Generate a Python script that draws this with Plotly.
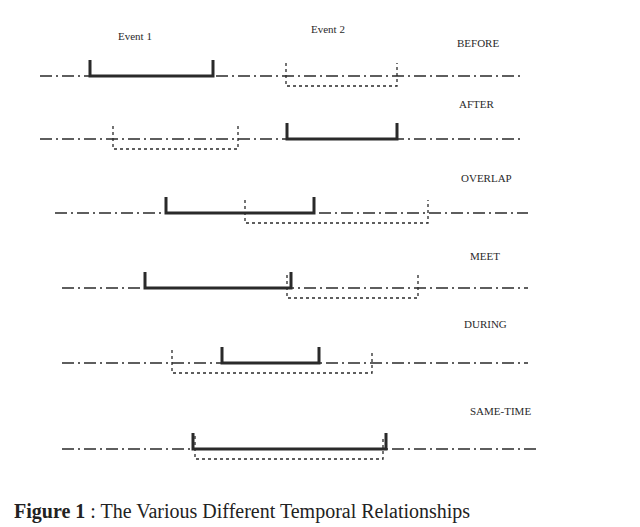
import plotly.graph_objects as go

# rows of the figure (in picture units, y grows downwards)
labels = ["BEFORE", "AFTER", "OVERLAP", "MEET", "DURING", "SAME-TIME"]
base_y = [75, 138, 212, 287, 362, 448]
line_start = [40, 40, 55, 62, 62, 62]
line_end = [520, 520, 528, 528, 528, 536]
event1 = [(90, 213), (287, 397), (166, 314), (145, 291), (222, 319), (193, 386)]
event2 = [(286, 397), (113, 238), (245, 428), (287, 418), (172, 372), (195, 383)]
label_x = [478, 477, 486, 485, 485, 500]
label_y = [42, 103, 177, 255, 323, 410]

ink = "#2a2a2a"
fig = go.Figure()

for i, y in enumerate(base_y):
    # dash-dot time line
    fig.add_trace(go.Scatter(x=[line_start[i], line_end[i]], y=[y, y], mode="lines",
                             line=dict(color=ink, width=1.6, dash="12px,4px,2px,4px")))
    # event 1: solid bracket on the line
    a, b = event1[i]
    fig.add_trace(go.Scatter(x=[a, a, b, b], y=[y - 16, y, y, y - 16], mode="lines",
                             line=dict(color=ink, width=3)))
    # event 2: dotted bracket under the line
    a, b = event2[i]
    fig.add_trace(go.Scatter(x=[a, a, b, b], y=[y - 13, y + 10, y + 10, y - 13], mode="lines",
                             line=dict(color=ink, width=1.3, dash="dot")))
    fig.add_annotation(x=label_x[i], y=label_y[i], text=labels[i], showarrow=False,
                       font=dict(family="Liberation Serif", size=11, color=ink))

fig.add_annotation(x=135, y=35, text="Event 1", showarrow=False,
                   font=dict(family="Liberation Serif", size=11, color=ink))
fig.add_annotation(x=328, y=28, text="Event 2", showarrow=False,
                   font=dict(family="Liberation Serif", size=11, color=ink))
fig.add_annotation(x=12, y=510, xanchor="left", showarrow=False,
                   text="<b>Figure 1</b> : The Various Different Temporal Relationships",
                   font=dict(family="Liberation Serif", size=20, color="#222"))

fig.update_layout(width=640, height=527, margin=dict(l=0, r=0, t=0, b=0),
                  showlegend=False, plot_bgcolor="white", paper_bgcolor="white",
                  xaxis=dict(range=[8, 648], visible=False),
                  yaxis=dict(range=[534, 7], visible=False))
fig.write_html("out.html")
